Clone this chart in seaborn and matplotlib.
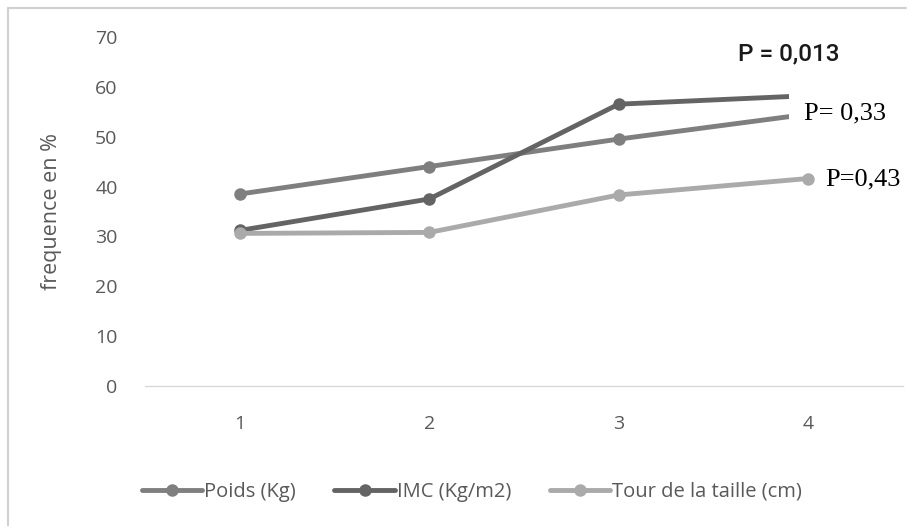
import matplotlib
matplotlib.use("Agg")
import matplotlib.pyplot as plt
import seaborn as sns
import pandas as pd
from matplotlib.lines import Line2D

x_vals = [1, 2, 3, 4]
poids = [38.5, 44.0, 49.5, 54.5]
imc = [31.2, 37.5, 56.5, 58.2]
tour = [30.6, 30.8, 38.3, 41.6]
series_names = ["Poids (Kg)", "IMC (Kg/m2)", "Tour de la taille (cm)"]
colors = ["#7f7f7f", "#646464", "#aaaaaa"]
p_labels = ["P = 0,013", "P= 0,33", "P=0,43"]
y_ticks = [0, 10, 20, 30, 40, 50, 60, 70]

df = pd.DataFrame({
    "x": x_vals * 3,
    "val": poids + imc + tour,
    "serie": [series_names[0]] * 4 + [series_names[1]] * 4 + [series_names[2]] * 4,
})

sns.set_style("white")
plt.rcParams["font.family"] = ["Open Sans", "DejaVu Sans"]

fig = plt.figure(figsize=(9.2, 5.26), dpi=100)
ax = fig.add_axes([0.158, 0.266, 0.823, 0.664])

sns.lineplot(data=df, x="x", y="val", hue="serie", palette=colors,
             marker="o", markersize=9, markeredgewidth=0, linewidth=3.5,
             ax=ax, legend=False)

ax.set_xlim(0.5, 4.5)
ax.set_ylim(0, 70)
ax.set_xticks(x_vals)
ax.set_yticks(y_ticks)
ax.tick_params(length=0, labelsize=14, labelcolor="#595959", pad=21)
ax.tick_params(axis="y", pad=20)
ax.set_xlabel("")
ax.set_ylabel("frequence en %", fontsize=15.5, color="#595959", labelpad=24)
for s in ["top", "right", "left"]:
    ax.spines[s].set_visible(False)
ax.spines["bottom"].set_color("#d9d9d9")
ax.spines["bottom"].set_linewidth(1)

# p-value annotations
ax.text(3.9, 66.5, p_labels[0], fontsize=17.5, family=["Roboto", "DejaVu Sans"],
        weight="medium", color="#1a1a1a", ha="center", va="center", zorder=5)
ax.text(3.98, 54.6, p_labels[1], fontsize=19, family=["Liberation Serif"],
        color="black", ha="left", va="center", zorder=5,
        bbox=dict(facecolor="white", edgecolor="none", pad=11))
ax.text(4.09, 41.4, p_labels[2], fontsize=19, family=["Liberation Serif"],
        color="black", ha="left", va="center", zorder=5,
        bbox=dict(facecolor="white", edgecolor="none", pad=1))

handles = [Line2D([0], [0], color=c, lw=3.5, marker="o", markersize=9,
                  markeredgewidth=0) for c in colors]
fig.legend(handles, series_names, loc="center", bbox_to_anchor=(0.513, 0.065),
           ncol=3, frameon=False, fontsize=14.5, handlelength=3.0,
           handletextpad=0.1, columnspacing=1.9, labelcolor="#595959")

# outer chart border
fig.add_artist(Line2D([0.009, 0.009], [0.0, 0.985], transform=fig.transFigure,
                      color="#d0d0d0", lw=1.5))
fig.add_artist(Line2D([0.009, 0.985], [0.985, 0.985], transform=fig.transFigure,
                      color="#d0d0d0", lw=1.5))

fig.savefig("out.png", dpi=100)
